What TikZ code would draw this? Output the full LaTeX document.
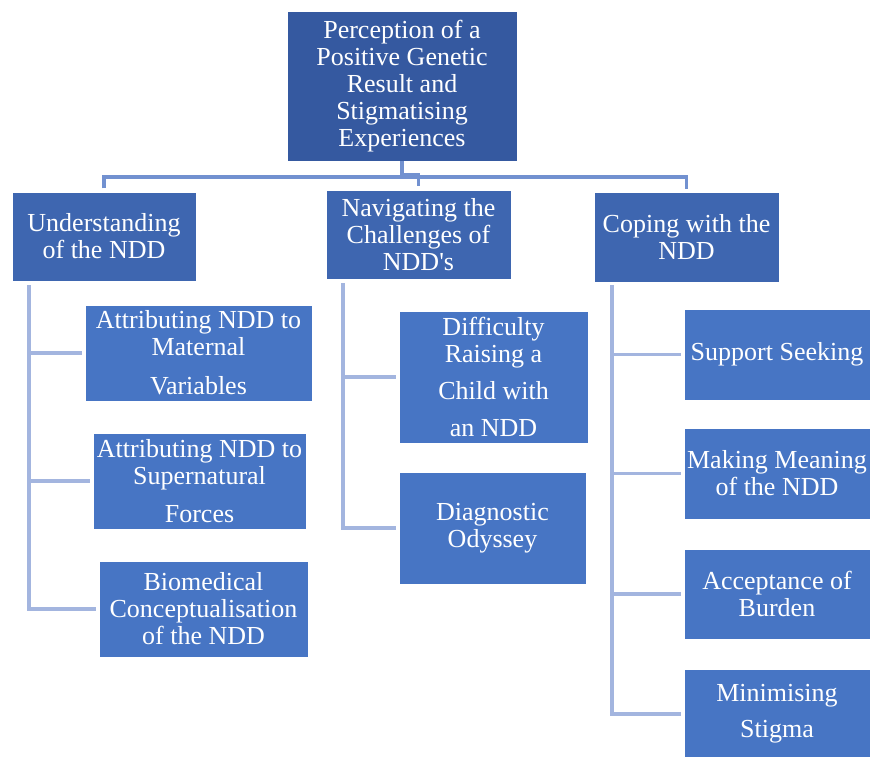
\documentclass[tikz,border=0pt]{standalone}
\usepackage{fontspec}
\setmainfont{Liberation Serif}
\definecolor{topc}{HTML}{3559A0}
\definecolor{midc}{HTML}{3E66B0}
\definecolor{leafc}{HTML}{4775C4}
\definecolor{linea}{HTML}{7291D0}
\definecolor{lineb}{HTML}{A3B5DF}
\begin{document}
\begin{tikzpicture}[x=0.75pt,y=-0.75pt,
  box/.style={draw=white, line width=0.6pt, text=white, align=center, inner sep=0pt,
    font=\fontsize{19.5}{20.25}\selectfont},
  topbox/.style={box, fill=topc},
  midbox/.style={box, fill=midc},
  leafbox/.style={box, fill=leafc},
  con1/.style={draw=linea, line width=2.4pt},
  con2/.style={draw=lineb, line width=2.4pt, shorten >=1.8pt}]
\useasboundingbox (0,0) rectangle (870,756);
\fill[white] (0,0) rectangle (870,756);
% top
\node[topbox, minimum width=172.5pt, minimum height=112.5pt] (top) at (402,86)
  {Perception of a\\Positive Genetic\\Result and\\Stigmatising\\Experiences};
% level 1
\node[midbox, minimum width=138pt, minimum height=66.75pt] (und) at (104,236.5)
  {Understanding\\of the NDD};
\node[midbox, minimum width=138.75pt, minimum height=66.75pt] (nav) at (418.5,234.5)
  {Navigating the\\Challenges of\\NDD\textquotesingle s};
\node[midbox, minimum width=138.75pt, minimum height=67.5pt] (cop) at (686.5,237)
  {Coping with the\\NDD};
% left leaves
\node[leafbox, minimum width=170.25pt, minimum height=72pt] (mat) at (198.5,353)
  {Attributing NDD to\\Maternal\\[9pt]Variables};
\node[leafbox, minimum width=159.75pt, minimum height=72pt] (sup) at (199.5,481)
  {Attributing NDD to\\Supernatural\\[8.5pt]Forces};
\node[leafbox, minimum width=156.75pt, minimum height=72pt] (bio) at (203.5,609)
  {Biomedical\\Conceptualisation\\of the NDD};
% middle leaves
\node[leafbox, minimum width=141.75pt, minimum height=99pt] (dif) at (493.5,377)
  {Difficulty\\Raising a\\[7.5pt]Child with\\[7.5pt]an NDD};
\node[leafbox, minimum width=140.25pt, minimum height=84pt] (dia) at (492.5,528)
  {Diagnostic\\Odyssey};
% right leaves
\node[leafbox, minimum width=139.5pt, minimum height=68.25pt] (sks) at (777,354.5)
  {Support Seeking};
\node[leafbox, minimum width=139.5pt, minimum height=68.25pt] (mak) at (777,473.5)
  {Making Meaning\\of the NDD};
\node[leafbox, minimum width=139.5pt, minimum height=67.5pt] (acc) at (777,594)
  {Acceptance of\\Burden};
\node[leafbox, minimum width=139.5pt, minimum height=67.5pt] (mins) at (777,714)
  {Minimising\\[7pt]Stigma};
% top-level connectors
\coordinate (bus) at (0,177);
\draw[con1] (top.south) -- ++(0,13) -| ([yshift=2.5pt]nav.north);
\draw[con1] ([yshift=2.5pt]und.north) -- (und.north |- bus) -- (cop.north |- bus) -- ([yshift=2pt]cop.north);
% left branch
\coordinate (lb) at (29,285);
\draw[con2] (lb) |- (bio.west);
\draw[con2] (lb |- mat.west) -- (mat.west);
\draw[con2] (lb |- sup.west) -- (sup.west);
% middle branch
\coordinate (mb) at (343,283);
\draw[con2] (mb) |- (dia.west);
\draw[con2] (mb |- dif.west) -- (dif.west);
% right branch
\coordinate (rb) at (612,285);
\draw[con2] (rb) |- (mins.west);
\draw[con2] (rb |- sks.west) -- (sks.west);
\draw[con2] (rb |- mak.west) -- (mak.west);
\draw[con2] (rb |- acc.west) -- (acc.west);
\end{tikzpicture}
\end{document}
